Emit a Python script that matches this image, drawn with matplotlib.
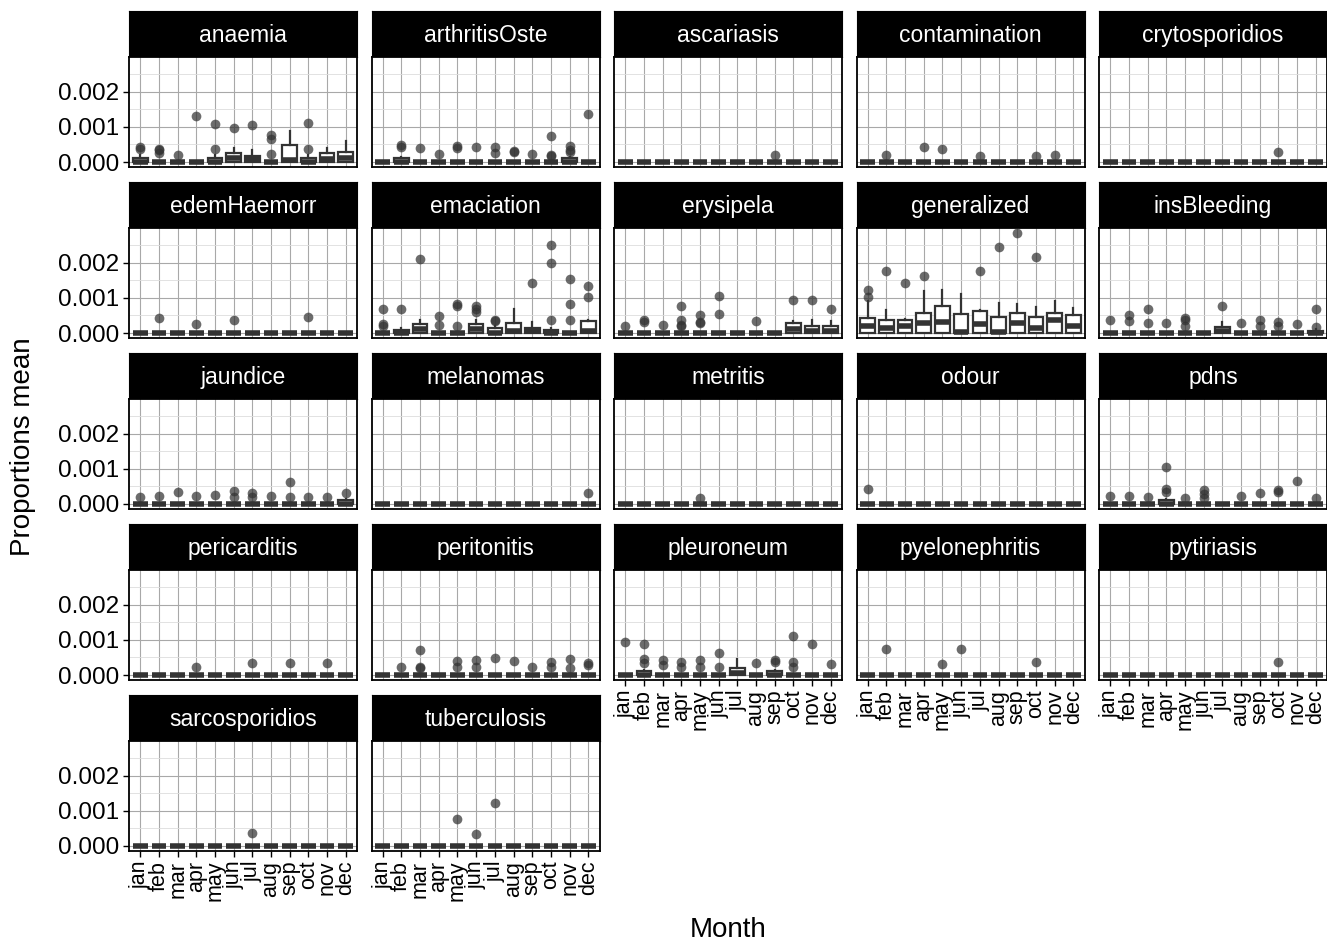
import matplotlib
matplotlib.use("Agg")
import matplotlib.pyplot as plt
import numpy as np

plt.rcParams["font.family"] = ["Liberation Sans", "DejaVu Sans"]

months = ["jan", "feb", "mar", "apr", "may", "jun",
          "jul", "aug", "sep", "oct", "nov", "dec"]

# boxes: month -> (q1, median, q3, upper whisker); months not listed are all-zero boxes
# fliers: month -> outlier values
anaemia_boxes = {"jan": (0, 0, 0.0001, 0.0002), "may": (0, 0, 0.0001, 0.0002),
                 "jun": (0, 0.00012, 0.00025, 0.0004), "jul": (0, 0.00008, 0.00018, 0.00035),
                 "sep": (0, 0.00006, 0.00047, 0.00088), "oct": (0, 0, 0.0001, 0.0002),
                 "nov": (0, 0.00008, 0.00025, 0.0004), "dec": (0, 0.0001, 0.00027, 0.0006)}
anaemia_fliers = {"jan": [0.00038, 0.00044], "feb": [0.00025, 0.00033, 0.00038], "mar": [0.00021],
                  "apr": [0.00132], "may": [0.00038, 0.00107], "jun": [0.00097], "jul": [0.00106],
                  "aug": [0.00024, 0.00065, 0.00077], "oct": [0.00036, 0.00112]}

arthritis_boxes = {"feb": (0, 0, 0.0001, 0.00015), "nov": (0, 0, 0.0001, 0.00015)}
arthritis_fliers = {"feb": [0.00044, 0.00049], "mar": [0.0004], "apr": [0.00023],
                    "may": [0.0004, 0.00045], "jun": [0.00042], "jul": [0.00025, 0.00042],
                    "aug": [0.00028, 0.00031], "sep": [0.00022], "oct": [0.00018, 0.00021, 0.00075],
                    "nov": [0.00028, 0.00035, 0.00045], "dec": [0.00135]}

ascariasis_boxes = {}
ascariasis_fliers = {"sep": [0.00021]}

contamination_boxes = {}
contamination_fliers = {"feb": [0.0002], "apr": [0.00044], "may": [0.00038], "jul": [0.00016],
                        "oct": [0.00016], "nov": [0.0002]}

crytosporidios_boxes = {}
crytosporidios_fliers = {"oct": [0.00027]}

edemhaemorr_boxes = {}
edemhaemorr_fliers = {"feb": [0.00044], "apr": [0.00026], "jun": [0.00038], "oct": [0.00045]}

emaciation_boxes = {"feb": (0, 0, 0.00008, 0.00015), "mar": (0, 0.0001, 0.00025, 0.00038),
                    "jun": (0, 0.0001, 0.00025, 0.00038), "jul": (0, 0, 0.00013, 0.0002),
                    "aug": (0, 0.00005, 0.00028, 0.00067), "sep": (0, 0.00005, 0.00013, 0.0003),
                    "oct": (0, 0, 0.00008, 0.00015), "dec": (0, 0.00005, 0.00033, 0.00038)}
emaciation_fliers = {"jan": [0.00021, 0.00026, 0.00069], "feb": [0.00069], "mar": [0.0021],
                     "apr": [0.00022, 0.00048], "may": [0.00019, 0.00078, 0.00081],
                     "jun": [0.00059, 0.00069, 0.00078], "jul": [0.00033, 0.00038],
                     "sep": [0.00141], "oct": [0.00038, 0.002, 0.0025],
                     "nov": [0.00038, 0.00081, 0.00152], "dec": [0.00103, 0.00133]}

erysipela_boxes = {"oct": (0, 0.0001, 0.00028, 0.00035), "nov": (0, 0.00007, 0.0002, 0.00038),
                   "dec": (0, 0.00007, 0.0002, 0.00033)}
erysipela_fliers = {"jan": [0.00021], "feb": [0.00031, 0.00036], "mar": [0.00023],
                    "apr": [0.00019, 0.00024, 0.00038, 0.00076], "may": [0.00027, 0.00031, 0.0005],
                    "jun": [0.00055, 0.00105], "aug": [0.00035], "oct": [0.00093],
                    "nov": [0.00093], "dec": [0.00067]}

generalized_boxes = {"jan": (0, 0.0002, 0.00043, 0.0009), "feb": (0, 0.00015, 0.00036, 0.00065),
                     "mar": (0, 0.0002, 0.00037, 0.0004), "apr": (0, 0.00028, 0.00057, 0.00119),
                     "may": (0, 0.0003, 0.00077, 0.00122), "jun": (0, 0.00002, 0.00055, 0.0011),
                     "jul": (0, 0.00025, 0.00062, 0.00065), "aug": (0, 0.00002, 0.00046, 0.00085),
                     "sep": (0, 0.00028, 0.00056, 0.00082), "oct": (0, 0.00015, 0.00046, 0.00075),
                     "nov": (0, 0.00038, 0.00058, 0.0009), "dec": (0, 0.0002, 0.0005, 0.0007)}
generalized_fliers = {"jan": [0.00103, 0.00121], "feb": [0.00177], "mar": [0.00143],
                      "apr": [0.00162], "jul": [0.00177], "aug": [0.00243], "sep": [0.00284],
                      "oct": [0.00217]}

insbleeding_boxes = {"jul": (0, 0.00005, 0.00017, 0.0003), "dec": (0, 0, 0.00005, 0.0001)}
insbleeding_fliers = {"jan": [0.00038], "feb": [0.00035, 0.0005], "mar": [0.00029, 0.00067],
                      "apr": [0.00027], "may": [0.00021, 0.00036, 0.00043], "jul": [0.00076],
                      "aug": [0.00029], "sep": [0.00021, 0.00038], "oct": [0.00019, 0.00031],
                      "nov": [0.00026], "dec": [0.00017, 0.00069]}

jaundice_boxes = {"dec": (0, 0, 0.0001, 0.00015)}
jaundice_fliers = {"jan": [0.00019], "feb": [0.00023], "mar": [0.00033], "apr": [0.00023],
                   "may": [0.00025], "jun": [0.00019, 0.00038], "jul": [0.00019, 0.00032],
                   "aug": [0.00023], "sep": [0.00019, 0.00062], "oct": [0.00021],
                   "nov": [0.00019], "dec": [0.00032]}

melanomas_boxes = {}
melanomas_fliers = {"dec": [0.0003]}

metritis_boxes = {}
metritis_fliers = {"may": [0.00018]}

odour_boxes = {}
odour_fliers = {"jan": [0.00043]}

pdns_boxes = {"apr": (0, 0, 0.0001, 0.00015)}
pdns_fliers = {"jan": [0.00024], "feb": [0.00024], "mar": [0.00021],
               "apr": [0.00033, 0.00043, 0.00105], "may": [0.00016],
               "jun": [0.00016, 0.00029, 0.0004], "aug": [0.00024], "sep": [0.0003],
               "oct": [0.00033, 0.0004], "nov": [0.00066], "dec": [0.00016]}

pericarditis_boxes = {}
pericarditis_fliers = {"apr": [0.00022], "jul": [0.00035], "sep": [0.00035], "nov": [0.00035]}

peritonitis_boxes = {}
peritonitis_fliers = {"feb": [0.00024], "mar": [0.0002, 0.00024, 0.00071],
                      "may": [0.00024, 0.00041], "jun": [0.00024, 0.00043], "jul": [0.00048],
                      "aug": [0.00041], "sep": [0.00022], "oct": [0.00024, 0.00038],
                      "nov": [0.0002, 0.00045], "dec": [0.00029, 0.00033]}

pleuroneum_boxes = {"feb": (0, 0, 0.0001, 0.00013), "jul": (0, 0.00005, 0.0002, 0.00045),
                    "sep": (0, 0, 0.0001, 0.00015)}
pleuroneum_fliers = {"jan": [0.00095], "feb": [0.00035, 0.00045, 0.00089],
                     "mar": [0.00029, 0.00043], "apr": [0.00024, 0.00037],
                     "may": [0.00024, 0.00043], "jun": [0.00024, 0.00062], "aug": [0.00035],
                     "sep": [0.00036, 0.00043], "oct": [0.00022, 0.00036, 0.00112],
                     "nov": [0.00088], "dec": [0.0003]}

pyelonephritis_boxes = {}
pyelonephritis_fliers = {"feb": [0.00073], "may": [0.0003], "jun": [0.00074], "oct": [0.00037]}

pytiriasis_boxes = {}
pytiriasis_fliers = {"oct": [0.00036]}

sarcosporidios_boxes = {}
sarcosporidios_fliers = {"jul": [0.00038]}

tuberculosis_boxes = {}
tuberculosis_fliers = {"may": [0.00078], "jun": [0.00033], "jul": [0.00123]}

facets = [
    ("anaemia", anaemia_boxes, anaemia_fliers),
    ("arthritisOste", arthritis_boxes, arthritis_fliers),
    ("ascariasis", ascariasis_boxes, ascariasis_fliers),
    ("contamination", contamination_boxes, contamination_fliers),
    ("crytosporidios", crytosporidios_boxes, crytosporidios_fliers),
    ("edemHaemorr", edemhaemorr_boxes, edemhaemorr_fliers),
    ("emaciation", emaciation_boxes, emaciation_fliers),
    ("erysipela", erysipela_boxes, erysipela_fliers),
    ("generalized", generalized_boxes, generalized_fliers),
    ("insBleeding", insbleeding_boxes, insbleeding_fliers),
    ("jaundice", jaundice_boxes, jaundice_fliers),
    ("melanomas", melanomas_boxes, melanomas_fliers),
    ("metritis", metritis_boxes, metritis_fliers),
    ("odour", odour_boxes, odour_fliers),
    ("pdns", pdns_boxes, pdns_fliers),
    ("pericarditis", pericarditis_boxes, pericarditis_fliers),
    ("peritonitis", peritonitis_boxes, peritonitis_fliers),
    ("pleuroneum", pleuroneum_boxes, pleuroneum_fliers),
    ("pyelonephritis", pyelonephritis_boxes, pyelonephritis_fliers),
    ("pytiriasis", pytiriasis_boxes, pytiriasis_fliers),
    ("sarcosporidios", sarcosporidios_boxes, sarcosporidios_fliers),
    ("tuberculosis", tuberculosis_boxes, tuberculosis_fliers),
]

W, H = 1327, 943
fig = plt.figure(figsize=(W / 100, H / 100), dpi=100)

ncol = 5
n = len(facets)
panel_w, col_step = 228, 242.5
strip_h, panel_h, row_step = 46, 110, 171
left0, top0 = 129, 11

# shared y scale with ggplot-like 5% expansion
ymax = max(max(max(v) for v in fl.values()) if fl else 0 for _, _, fl in facets)
pad = 0.05 * ymax
ylim = (-pad, ymax + pad)

dark = "#333333"

for i, (name, boxes, fliers) in enumerate(facets):
    r, c = divmod(i, ncol)
    x0 = left0 + c * col_step
    ytop = top0 + r * row_step
    sax = fig.add_axes([x0 / W, 1 - (ytop + strip_h) / H, panel_w / W, strip_h / H])
    sax.set_facecolor("black")
    sax.set_xticks([]); sax.set_yticks([])
    for s in sax.spines.values():
        s.set_color("black")
    sax.text(0.5, 0.47, name, color="white", fontsize=16.5, ha="center", va="center",
             transform=sax.transAxes)

    ax = fig.add_axes([x0 / W, 1 - (ytop + strip_h + panel_h) / H, panel_w / W, panel_h / H])
    stats = []
    for m in months:
        q1, med, q3, whi = boxes.get(m, (0, 0, 0, 0))
        stats.append(dict(q1=q1, med=med, q3=q3, whislo=q1, whishi=whi,
                          fliers=fliers.get(m, [])))
    ax.bxp(stats, positions=np.arange(1, 13), widths=0.78, showcaps=False, patch_artist=True,
           boxprops=dict(facecolor="white", edgecolor=dark, linewidth=1.6),
           medianprops=dict(color=dark, linewidth=4.0),
           whiskerprops=dict(color=dark, linewidth=1.6),
           flierprops=dict(marker="o", markerfacecolor=dark, markeredgecolor="none",
                           markersize=7, alpha=0.72),
           zorder=3)
    ax.set_xlim(0.4, 12.6)
    ax.set_ylim(*ylim)
    ax.set_yticks([0, 0.001, 0.002])
    ax.set_yticks([0.0005, 0.0015, 0.0025], minor=True)
    ax.set_xticks(np.arange(1, 13))
    ax.grid(which="major", color="#a8a8a8", linewidth=0.8, zorder=0)
    ax.grid(which="minor", axis="y", color="#dddddd", linewidth=0.6, zorder=0)
    ax.set_axisbelow(True)
    for s in ax.spines.values():
        s.set_linewidth(1.3)
        s.set_color("black")
    ax.tick_params(which="minor", length=0)
    ax.tick_params(which="major", length=4, width=1, color="black", labelsize=17.5, pad=3)
    if c == 0:
        ax.set_yticklabels(["0.000", "0.001", "0.002"])
    else:
        ax.tick_params(axis="y", length=0, labelleft=False)
    if i + ncol >= n:
        ax.set_xticklabels(months, rotation=90, fontsize=15.5)
    else:
        ax.tick_params(axis="x", length=0, labelbottom=False)

fig.text(23 / W, 1 - 447 / H, "Proportions mean", rotation=90, fontsize=20,
         ha="center", va="center")
fig.text(728 / W, 1 - 930 / H, "Month", fontsize=20, ha="center", va="center")

fig.savefig("out.png", dpi=100)
